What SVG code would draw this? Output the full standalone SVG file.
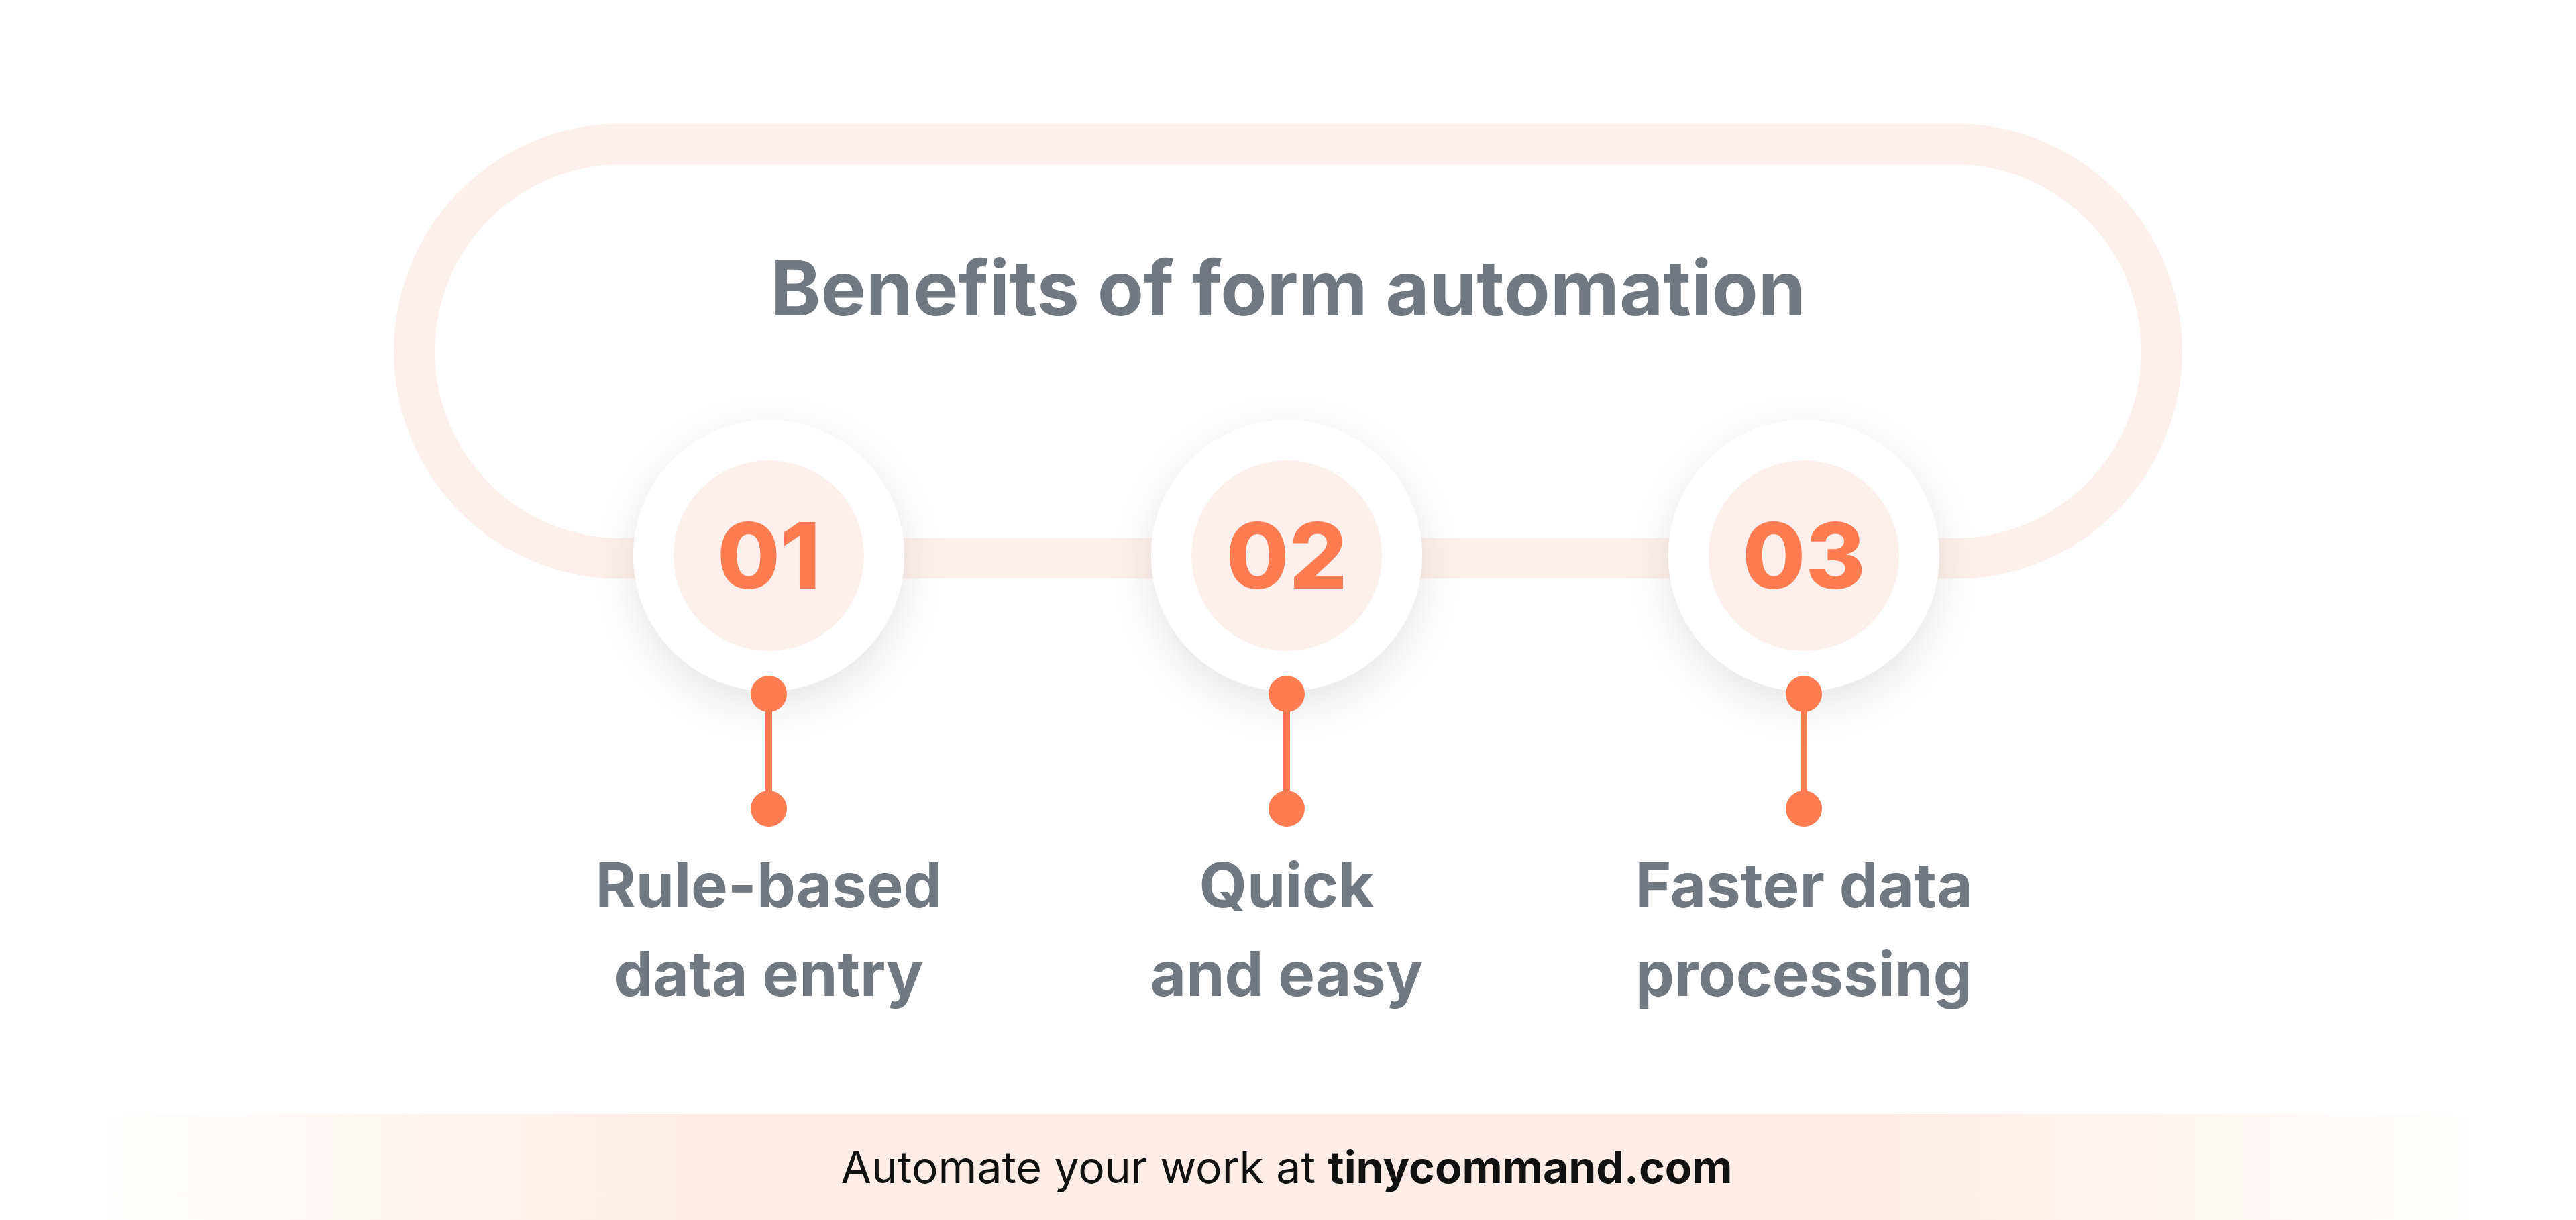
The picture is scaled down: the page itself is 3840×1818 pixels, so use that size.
<svg xmlns="http://www.w3.org/2000/svg" width="3840" height="1818" viewBox="0 0 3840 1818">
<defs>
<style>
.lbl{font-family:Inter,"Liberation Sans",sans-serif;font-weight:700;font-size:92px;fill:#727880;text-anchor:middle}
.num{font-family:Inter,"Liberation Sans",sans-serif;font-weight:800;font-size:136px;fill:#FF7B52;text-anchor:middle}
.dot{fill:#FF7B52}
</style>
<filter id="sh" x="-50%" y="-50%" width="200%" height="200%"><feDropShadow dx="0" dy="20" stdDeviation="30" flood-color="#000" flood-opacity="0.1"/></filter>
<linearGradient id="fg" x1="0" x2="1" y1="0" y2="0">
<stop offset="0" stop-color="#FDEDE6" stop-opacity="0"/>
<stop offset="0.25" stop-color="#FDEDE6"/>
<stop offset="0.75" stop-color="#FDEDE6"/>
<stop offset="1" stop-color="#FDEDE6" stop-opacity="0"/>
</linearGradient>
</defs>
<rect width="3840" height="1818" fill="#fff"/>
<g id="connectors">
<path d="M909,832 A309,309 0 0 1 909,215 L2931,215 A309,309 0 0 1 2931,832 Z" fill="none" stroke="#FDF0EC" stroke-width="61"/>
<line x1="1146" y1="1034" x2="1146" y2="1205" stroke="#FF7B52" stroke-width="10"/>
<line x1="1918" y1="1034" x2="1918" y2="1205" stroke="#FF7B52" stroke-width="10"/>
<line x1="2689" y1="1034" x2="2689" y2="1205" stroke="#FF7B52" stroke-width="10"/>
</g>
<text x="1920" y="470" font-family="Inter,'Liberation Sans',sans-serif" font-weight="700" font-size="113" fill="#727880" text-anchor="middle">Benefits of form automation</text>
<g id="n1">
<circle cx="1146" cy="828" r="202" fill="#fff" filter="url(#sh)"/>
<circle cx="1146" cy="828" r="142" fill="#FDF0EC"/>
<text class="num" x="1146" y="877">01</text>
<circle class="dot" cx="1146" cy="1034" r="27"/><circle class="dot" cx="1146" cy="1205" r="27"/>
<text class="lbl" x="1146" y="1352">Rule-based</text><text class="lbl" x="1146" y="1484">data entry</text>
</g>
<g id="n2">
<circle cx="1918" cy="828" r="202" fill="#fff" filter="url(#sh)"/>
<circle cx="1918" cy="828" r="142" fill="#FDF0EC"/>
<text class="num" x="1918" y="877">02</text>
<circle class="dot" cx="1918" cy="1034" r="27"/><circle class="dot" cx="1918" cy="1205" r="27"/>
<text class="lbl" x="1918" y="1352">Quick</text><text class="lbl" x="1918" y="1484">and easy</text>
</g>
<g id="n3">
<circle cx="2689" cy="828" r="202" fill="#fff" filter="url(#sh)"/>
<circle cx="2689" cy="828" r="142" fill="#FDF0EC"/>
<text class="num" x="2689" y="877">03</text>
<circle class="dot" cx="2689" cy="1034" r="27"/><circle class="dot" cx="2689" cy="1205" r="27"/>
<text class="lbl" x="2689" y="1352">Faster data</text><text class="lbl" x="2689" y="1484">processing</text>
</g>
<g id="footer">
<rect x="140" y="1660" width="3560" height="158" fill="url(#fg)"/>
<text x="1918" y="1763" font-family="Inter,'Liberation Sans',sans-serif" font-size="66" fill="#111" text-anchor="middle">Automate your work at <tspan font-weight="700">tinycommand.com</tspan></text>
</g>
</svg>
